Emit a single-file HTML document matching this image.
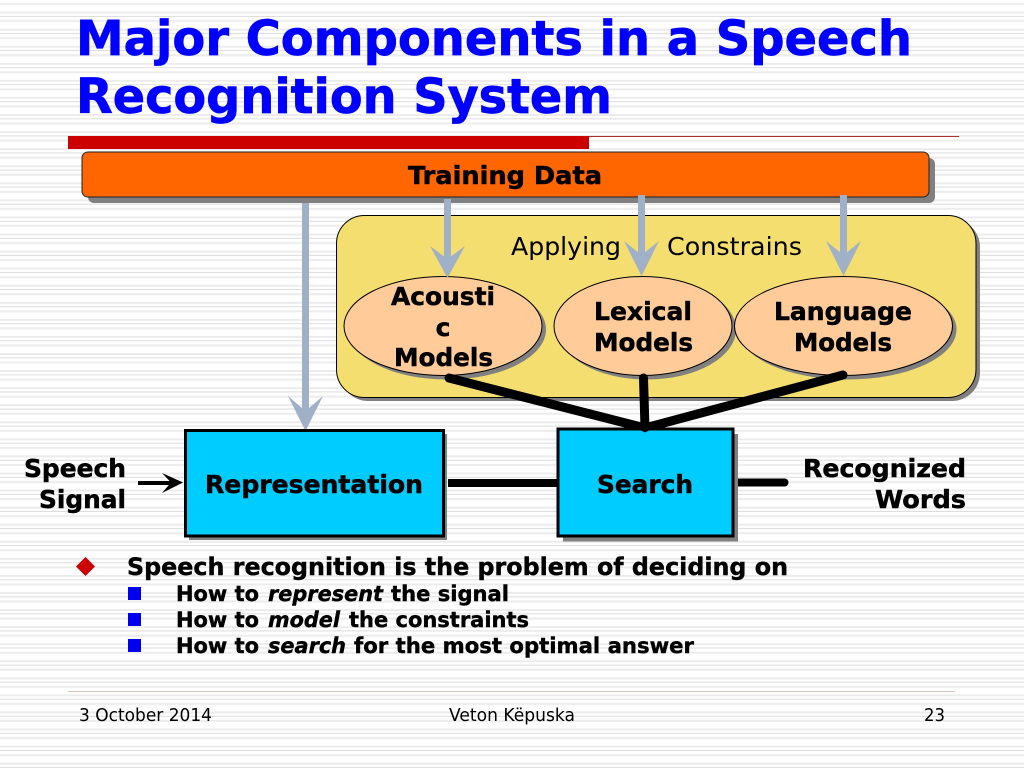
<!DOCTYPE html>
<html><head><meta charset="utf-8"><style>
html,body{margin:0;padding:0;background:#fff;width:1024px;height:768px;overflow:hidden}
svg{display:block}
text{font-family:"DejaVu Sans","Liberation Sans",sans-serif;fill:#000}
.b{font-weight:bold;stroke:#000;stroke-width:.4px}
.t{font-size:48px;font-weight:bold;fill:#0000ff;stroke:#0000ff;stroke-width:.7px}
.m{font-size:25px;font-weight:bold;stroke:#000;stroke-width:.5px}
.s{font-size:21px;font-weight:bold;stroke:#000;stroke-width:.4px}
.f{font-size:18px}
</style></head><body>
<svg width="1024" height="768" viewBox="0 0 1024 768" xmlns="http://www.w3.org/2000/svg">
<defs><pattern id="p" width="1024" height="17.07" patternUnits="userSpaceOnUse" y="11.6">
<rect y="0" width="1024" height="2" fill="#ececec"/>
<rect y="4.300" width="1024" height="1" fill="#dcdcdc"/>
<rect y="8.500" width="1024" height="2" fill="#ececec"/>
</pattern></defs>
<rect width="1024" height="768" fill="#fff"/>
<rect width="1024" height="768" fill="url(#p)"/>

<text class="t" x="76" y="55" textLength="836" lengthAdjust="spacingAndGlyphs">Major Components in a Speech</text>
<text class="t" x="76" y="113" textLength="536" lengthAdjust="spacingAndGlyphs">Recognition System</text>
<rect x="68" y="136" width="521" height="13" fill="#cc0000"/>
<rect x="589" y="136" width="370" height="1" fill="#b03030"/>

<rect x="88" y="158" width="847" height="45" rx="6" fill="#808080"/>
<rect x="82" y="152" width="847" height="45" rx="6" fill="#ff6600" stroke="#222" stroke-width="1"/>
<text class="m" x="408" y="184" textLength="194" lengthAdjust="spacingAndGlyphs">Training Data</text>

<rect x="340" y="219" width="640" height="182" rx="28" fill="#808080"/>
<rect x="336.500" y="215.500" width="639.500" height="182" rx="28" fill="#f4de6f" stroke="#000" stroke-width="1"/>
<text x="511" y="255" font-size="25" textLength="110" lengthAdjust="spacingAndGlyphs">Applying</text>
<text x="667" y="255" font-size="25" textLength="135" lengthAdjust="spacingAndGlyphs">Constrains</text>

<ellipse cx="447" cy="329.500" rx="99" ry="50" fill="#808080"/>
<ellipse cx="647" cy="329.500" rx="89" ry="50" fill="#808080"/>
<ellipse cx="847.500" cy="329.500" rx="109" ry="50" fill="#808080"/>
<ellipse cx="443" cy="326" rx="99" ry="49.500" fill="#ffcc99" stroke="#000" stroke-width="1"/>
<ellipse cx="643" cy="326" rx="89" ry="49.500" fill="#ffcc99" stroke="#000" stroke-width="1"/>
<ellipse cx="843.500" cy="326" rx="109" ry="49.500" fill="#ffcc99" stroke="#000" stroke-width="1"/>

<g fill="#a0b0c6">
<rect x="302" y="203" width="7" height="210"/>
<polygon points="288,396 305.500,431 323,396 305.500,411"/>
<rect x="444" y="199" width="7" height="64"/>
<polygon points="430,246 447.500,278 465,246 447.500,259"/>
<rect x="638" y="195" width="7" height="64"/>
<polygon points="624,241 641.500,276 659,241 641.500,255"/>
<rect x="840" y="195" width="7" height="64"/>
<polygon points="826,241 843.500,276 861,241 843.500,255"/>
</g>

<g stroke="#000" stroke-width="9" fill="none" stroke-linecap="round" stroke-linejoin="round">
<line x1="449" y1="378" x2="645" y2="428"/>
<line x1="643.500" y1="378" x2="645" y2="428"/>
<line x1="843" y1="375" x2="645" y2="428"/>
</g>
<rect x="448" y="479" width="112" height="8" fill="#000"/>
<rect x="732" y="478.500" width="53" height="8" fill="#000"/>
<circle cx="784.500" cy="482.500" r="4" fill="#000"/>

<text class="m" x="391" y="305" textLength="104" lengthAdjust="spacingAndGlyphs">Acousti</text>
<text class="m" x="443" y="336" text-anchor="middle">c</text>
<text class="m" x="394" y="366" textLength="99" lengthAdjust="spacingAndGlyphs">Models</text>
<text class="m" x="594" y="320" textLength="98" lengthAdjust="spacingAndGlyphs">Lexical</text>
<text class="m" x="594" y="351" textLength="99" lengthAdjust="spacingAndGlyphs">Models</text>
<text class="m" x="774" y="320" textLength="138" lengthAdjust="spacingAndGlyphs">Language</text>
<text class="m" x="794" y="351" textLength="98" lengthAdjust="spacingAndGlyphs">Models</text>

<rect x="189" y="434" width="258" height="106" fill="#808080"/>
<rect x="185.500" y="430.500" width="258" height="105.500" fill="#00ccff" stroke="#000" stroke-width="3"/>
<rect x="563" y="434" width="175" height="107.500" fill="#808080"/>
<rect x="558" y="429" width="175" height="107" fill="#00ccff" stroke="#000" stroke-width="3"/>
<polygon points="640,424 650,424 650,430 645,432.500 640,430" fill="#000"/>
<text class="m" x="205" y="493" textLength="218" lengthAdjust="spacingAndGlyphs">Representation</text>
<text class="m" x="597" y="493" textLength="96" lengthAdjust="spacingAndGlyphs">Search</text>

<text class="m" x="24" y="477" textLength="102" lengthAdjust="spacingAndGlyphs">Speech</text>
<text class="m" x="39" y="508" textLength="87" lengthAdjust="spacingAndGlyphs">Signal</text>
<text class="m" x="803" y="477" textLength="163" lengthAdjust="spacingAndGlyphs">Recognized</text>
<text class="m" x="875" y="508" textLength="91" lengthAdjust="spacingAndGlyphs">Words</text>
<rect x="138" y="481" width="36" height="4" fill="#000"/>
<polygon points="162,473 183,482.500 162,493 171,482.500" fill="#000"/>

<polygon points="85.500,557 95,566.500 85.500,576 76,566.500" fill="#cc0000"/>
<text x="127" y="575" font-size="24" class="b" textLength="661" lengthAdjust="spacingAndGlyphs">Speech recognition is the problem of deciding on</text>
<rect x="128" y="587" width="13" height="13" fill="#0000ee"/>
<rect x="128" y="613" width="13" height="13" fill="#0000ee"/>
<rect x="128" y="639" width="13" height="13" fill="#0000ee"/>

<text class="s" x="176" y="601" textLength="83" lengthAdjust="spacingAndGlyphs">How to</text>
<text class="s" x="268" y="601" font-style="italic" textLength="115" lengthAdjust="spacingAndGlyphs">represent</text>
<text class="s" x="391" y="601" textLength="118" lengthAdjust="spacingAndGlyphs">the signal</text>
<text class="s" x="176" y="627" textLength="83" lengthAdjust="spacingAndGlyphs">How to</text>
<text class="s" x="268" y="627" font-style="italic" textLength="72" lengthAdjust="spacingAndGlyphs">model</text>
<text class="s" x="349" y="627" textLength="180" lengthAdjust="spacingAndGlyphs">the constraints</text>
<text class="s" x="176" y="653" textLength="83" lengthAdjust="spacingAndGlyphs">How to</text>
<text class="s" x="268" y="653" font-style="italic" textLength="78" lengthAdjust="spacingAndGlyphs">search</text>
<text class="s" x="354" y="653" textLength="340" lengthAdjust="spacingAndGlyphs">for the most optimal answer</text>

<rect x="68" y="691" width="887" height="1" fill="#d8c4c0"/>
<text class="f" x="79" y="721" textLength="133" lengthAdjust="spacingAndGlyphs">3 October 2014</text>
<text class="f" x="449" y="721" textLength="126" lengthAdjust="spacingAndGlyphs">Veton Këpuska</text>
<text class="f" x="924" y="721" textLength="21" lengthAdjust="spacingAndGlyphs">23</text>
</svg>
</body></html>
